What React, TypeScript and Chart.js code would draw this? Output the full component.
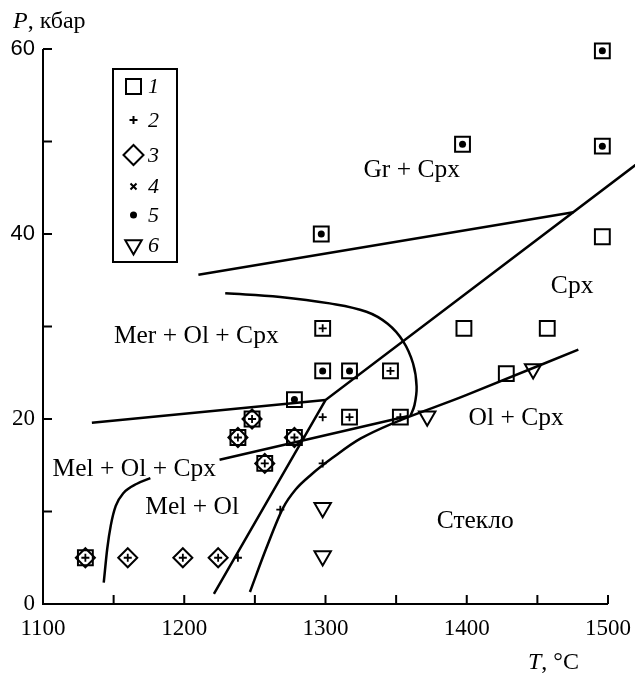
import React, { useEffect, useRef } from 'react';
import { Chart, registerables } from 'chart.js';

Chart.register(...registerables);

type Pt = { x: number; y: number };

// axis ticks
const xTickLabels = [1100, 1200, 1300, 1400, 1500];
const yTickLabels = [0, 20, 40, 60];
const ySansLabels = [40, 60];

// experimental points by marker type
const type1Squares: Pt[] = [
  { x: 1130, y: 5 }, { x: 1238, y: 18 }, { x: 1248, y: 20 }, { x: 1257, y: 15.2 }, { x: 1278, y: 18 },
  { x: 1278, y: 22.1 }, { x: 1298, y: 25.2 }, { x: 1317, y: 25.2 }, { x: 1346, y: 25.2 }, { x: 1298, y: 29.8 },
  { x: 1317, y: 20.2 }, { x: 1353, y: 20.2 }, { x: 1297, y: 40 }, { x: 1397, y: 49.7 }, { x: 1496, y: 49.5 },
  { x: 1496, y: 59.8 }, { x: 1496, y: 39.7 }, { x: 1398, y: 29.8 }, { x: 1457, y: 29.8 }, { x: 1428, y: 24.9 },
];
const type2Plus: Pt[] = [
  { x: 1130, y: 5 }, { x: 1160, y: 5 }, { x: 1199, y: 5 }, { x: 1224, y: 5 },
  { x: 1238, y: 18 }, { x: 1248, y: 20 }, { x: 1257, y: 15.2 }, { x: 1278, y: 18 },
  { x: 1238, y: 5 }, { x: 1268, y: 10.2 }, { x: 1298, y: 15.2 }, { x: 1298, y: 20.2 },
  { x: 1317, y: 20.2 }, { x: 1353, y: 20.2 }, { x: 1346, y: 25.2 }, { x: 1298, y: 29.8 },
];
const type3Diamonds: Pt[] = [
  { x: 1130, y: 5 }, { x: 1160, y: 5 }, { x: 1199, y: 5 }, { x: 1224, y: 5 },
  { x: 1238, y: 18 }, { x: 1248, y: 20 }, { x: 1257, y: 15.2 }, { x: 1278, y: 18 },
];
const type4Crosses: Pt[] = [];
const type5Dots: Pt[] = [
  { x: 1278, y: 22.1 }, { x: 1298, y: 25.2 }, { x: 1317, y: 25.2 }, { x: 1297, y: 40 },
  { x: 1397, y: 49.7 }, { x: 1496, y: 49.5 }, { x: 1496, y: 59.8 },
];
const type6Triangles: Pt[] = [
  { x: 1298, y: 5.2 }, { x: 1298, y: 10.4 }, { x: 1372, y: 20.3 }, { x: 1447, y: 25.4 },
];

// phase boundaries
const lineMerMel: Pt[] = [{ x: 1134.6, y: 19.6 }, { x: 1300, y: 22.05 }];
const lineSteepLeft: Pt[] = [{ x: 1221, y: 1.1 }, { x: 1300, y: 22.05 }, { x: 1525, y: 48.1 }];
const lineGr: Pt[] = [{ x: 1210, y: 35.6 }, { x: 1475.5, y: 42.35 }];
const lineMelOlCpx: Pt[] = [{ x: 1225, y: 15.6 }, { x: 1358, y: 20.3 }];
const curveOlCpx: Pt[] = [
  { x: 1246.5, y: 1.3 }, { x: 1258, y: 6 }, { x: 1270, y: 10.4 }, { x: 1279, y: 12.4 },
  { x: 1290, y: 14.0 }, { x: 1305, y: 15.8 }, { x: 1325, y: 17.9 }, { x: 1400, y: 22.6 }, { x: 1479, y: 27.5 },
];
const curveMer: Pt[] = [
  { x: 1229, y: 33.6 }, { x: 1268, y: 33.2 }, { x: 1303, y: 32.5 }, { x: 1329, y: 31.6 },
  { x: 1344, y: 30.3 }, { x: 1355, y: 28.4 }, { x: 1362, y: 26 }, { x: 1364.5, y: 23.5 },
  { x: 1363, y: 21.5 }, { x: 1360, y: 20.3 },
];
const curveMel: Pt[] = [
  { x: 1143, y: 2.3 }, { x: 1145.5, y: 6 }, { x: 1148, y: 8.5 }, { x: 1151.5, y: 10.6 },
  { x: 1157, y: 12 }, { x: 1166.5, y: 13 }, { x: 1176, y: 13.6 },
];

// region labels
const regionNames = ['Gr + Cpx', 'Cpx', 'Mer + Ol + Cpx', 'Ol + Cpx', 'Mel + Ol + Cpx', 'Mel + Ol', 'Стекло'];
const regionX = [1361, 1474.6, 1208.5, 1435, 1164.6, 1205.6, 1406];
const regionY = [46.9, 34.3, 28.9, 20.1, 14.6, 10.5, 8.9];

const legendNumbers = ['1', '2', '3', '4', '5', '6'];
const legendKinds = ['square', 'plus', 'diamond', 'x', 'dot', 'tri'];

const SERIF = '"Liberation Serif", "Times New Roman", serif';
const SANS = '"Liberation Sans", Arial, sans-serif';

function drawMarker(ctx: CanvasRenderingContext2D, kind: string, x: number, y: number) {
  ctx.save();
  ctx.strokeStyle = '#000';
  ctx.fillStyle = '#000';
  ctx.lineWidth = 2;
  ctx.beginPath();
  if (kind === 'square') {
    ctx.rect(x - 7.5, y - 7.5, 15, 15);
    ctx.stroke();
  } else if (kind === 'plus') {
    ctx.moveTo(x - 4, y); ctx.lineTo(x + 4, y);
    ctx.moveTo(x, y - 4); ctx.lineTo(x, y + 4);
    ctx.stroke();
  } else if (kind === 'diamond') {
    ctx.moveTo(x - 10, y); ctx.lineTo(x, y - 10); ctx.lineTo(x + 10, y); ctx.lineTo(x, y + 10);
    ctx.closePath();
    ctx.stroke();
  } else if (kind === 'x') {
    ctx.moveTo(x - 3, y - 3); ctx.lineTo(x + 3, y + 3);
    ctx.moveTo(x + 3, y - 3); ctx.lineTo(x - 3, y + 3);
    ctx.stroke();
  } else if (kind === 'dot') {
    ctx.arc(x, y, 3.5, 0, Math.PI * 2);
    ctx.fill();
  } else if (kind === 'tri') {
    const r = 9.5;
    ctx.moveTo(x, y + r);
    ctx.lineTo(x - r * Math.sin(Math.PI / 3), y - r / 2);
    ctx.lineTo(x + r * Math.sin(Math.PI / 3), y - r / 2);
    ctx.closePath();
    ctx.stroke();
  }
  ctx.restore();
}

const decorPlugin = {
  id: 'decor',
  afterDraw(chart: any) {
    const { ctx, chartArea, scales } = chart;
    const { left, right, top, bottom } = chartArea;
    const xs = scales.x;
    const ys = scales.y;
    ctx.save();
    ctx.strokeStyle = '#000';
    ctx.lineWidth = 2;
    ctx.beginPath();
    ctx.moveTo(left, top);
    ctx.lineTo(left, bottom);
    ctx.lineTo(right, bottom);
    xs.ticks.forEach((t: any) => {
      if (t.value === xs.min) return;
      const px = xs.getPixelForValue(t.value);
      ctx.moveTo(px, bottom);
      ctx.lineTo(px, bottom - 9);
    });
    ys.ticks.forEach((t: any) => {
      if (t.value === ys.min) return;
      const py = ys.getPixelForValue(t.value);
      ctx.moveTo(left, py);
      ctx.lineTo(left + 9, py);
    });
    ctx.stroke();

    // region labels
    ctx.fillStyle = '#000';
    ctx.font = `25.5px ${SERIF}`;
    ctx.textAlign = 'center';
    ctx.textBaseline = 'middle';
    regionNames.forEach((name, i) => {
      ctx.fillText(name, xs.getPixelForValue(regionX[i]), ys.getPixelForValue(regionY[i]));
    });

    // axis titles
    ctx.textAlign = 'left';
    ctx.textBaseline = 'alphabetic';
    ctx.font = `italic 24px ${SERIF}`;
    ctx.fillText('P', 13, 28);
    let w = ctx.measureText('P').width;
    ctx.font = `24px ${SERIF}`;
    ctx.fillText(', кбар', 13 + w, 28);

    ctx.font = `italic 24px ${SERIF}`;
    ctx.fillText('T', 528, 669);
    w = ctx.measureText('T').width;
    ctx.font = `24px ${SERIF}`;
    ctx.fillText(', °C', 528 + w, 669);

    // legend
    const bx = left + 70;
    const by = top + 20;
    ctx.lineWidth = 2;
    ctx.strokeRect(bx, by, 64, 193);
    const rowY = [17.5, 51, 86, 117.5, 146, 176];
    ctx.font = `italic 22px ${SERIF}`;
    ctx.textBaseline = 'middle';
    legendKinds.forEach((k, i) => {
      drawMarker(ctx, k, bx + 20.5, by + rowY[i]);
      ctx.fillText(legendNumbers[i], bx + 35, by + rowY[i] + 1);
    });
    ctx.restore();
  },
};

const lineStyle = {
  showLine: true,
  borderColor: '#000',
  borderWidth: 2.5,
  pointRadius: 0,
  clip: false as const,
};

export default function App() {
  const ref = useRef<HTMLCanvasElement>(null);
  useEffect(() => {
    const hollow = 'rgba(0,0,0,0)';
    const chart = new Chart(ref.current!, {
      type: 'scatter',
      data: {
        datasets: [
          { ...lineStyle, data: lineMerMel, tension: 0 },
          { ...lineStyle, data: lineSteepLeft, tension: 0 },
          { ...lineStyle, data: lineGr, tension: 0 },
          { ...lineStyle, data: lineMelOlCpx, tension: 0 },
          { ...lineStyle, data: curveOlCpx, cubicInterpolationMode: 'monotone' },
          { ...lineStyle, data: curveMer, tension: 0.4 },
          { ...lineStyle, data: curveMel, cubicInterpolationMode: 'monotone' },
          { data: type1Squares, pointStyle: 'rect', pointRadius: 10.5, borderWidth: 2, borderColor: '#000', backgroundColor: hollow, clip: false },
          { data: type3Diamonds, pointStyle: 'rectRot', pointRadius: 9.5, borderWidth: 2, borderColor: '#000', backgroundColor: hollow, clip: false },
          { data: type2Plus, pointStyle: 'cross', pointRadius: 4, borderWidth: 1.8, borderColor: '#000', backgroundColor: hollow, clip: false },
          { data: type4Crosses, pointStyle: 'crossRot', pointRadius: 3, borderWidth: 1.8, borderColor: '#000', clip: false },
          { data: type5Dots, pointStyle: 'circle', pointRadius: 3.5, borderWidth: 0, backgroundColor: '#000', clip: false },
          { data: type6Triangles, pointStyle: 'triangle', rotation: 180, pointRadius: 9.5, borderWidth: 2, borderColor: '#000', backgroundColor: hollow, clip: false },
        ] as any,
      },
      options: {
        responsive: false,
        animation: false,
        events: [],
        layout: { padding: { left: 0, right: 27, top: 49, bottom: 0 } },
        plugins: { legend: { display: false }, tooltip: { enabled: false } },
        scales: {
          x: {
            type: 'linear',
            min: 1100,
            max: 1500,
            afterFit: (s: any) => { s.height = 73; s.paddingLeft = 0; s.paddingRight = 0; },
            grid: { display: false, drawTicks: false },
            border: { display: false },
            ticks: {
              stepSize: 50,
              autoSkip: false,
              maxRotation: 0,
              padding: 11,
              color: '#000',
              font: { family: SERIF, size: 23 },
              callback: (v: any) => (xTickLabels.includes(Number(v)) ? String(v) : ''),
            },
          },
          y: {
            type: 'linear',
            min: 0,
            max: 60,
            afterFit: (s: any) => { s.width = 43; s.paddingTop = 0; s.paddingBottom = 0; },
            grid: { display: false, drawTicks: false },
            border: { display: false },
            ticks: {
              stepSize: 10,
              autoSkip: false,
              padding: 8,
              color: '#000',
              font: (c: any) =>
                c.tick && ySansLabels.includes(c.tick.value)
                  ? { family: SANS, size: 22 }
                  : { family: SERIF, size: 23 },
              callback: (v: any) => (yTickLabels.includes(Number(v)) ? String(v) : ''),
            },
          },
        },
      } as any,
      plugins: [decorPlugin],
    });
    return () => chart.destroy();
  }, []);
  return (
    <div style={{ position: 'absolute', left: 0, top: 0, width: 635, height: 677, background: '#fff' }}>
      <canvas ref={ref} width={635} height={677} style={{ display: 'block' }} />
    </div>
  );
}
